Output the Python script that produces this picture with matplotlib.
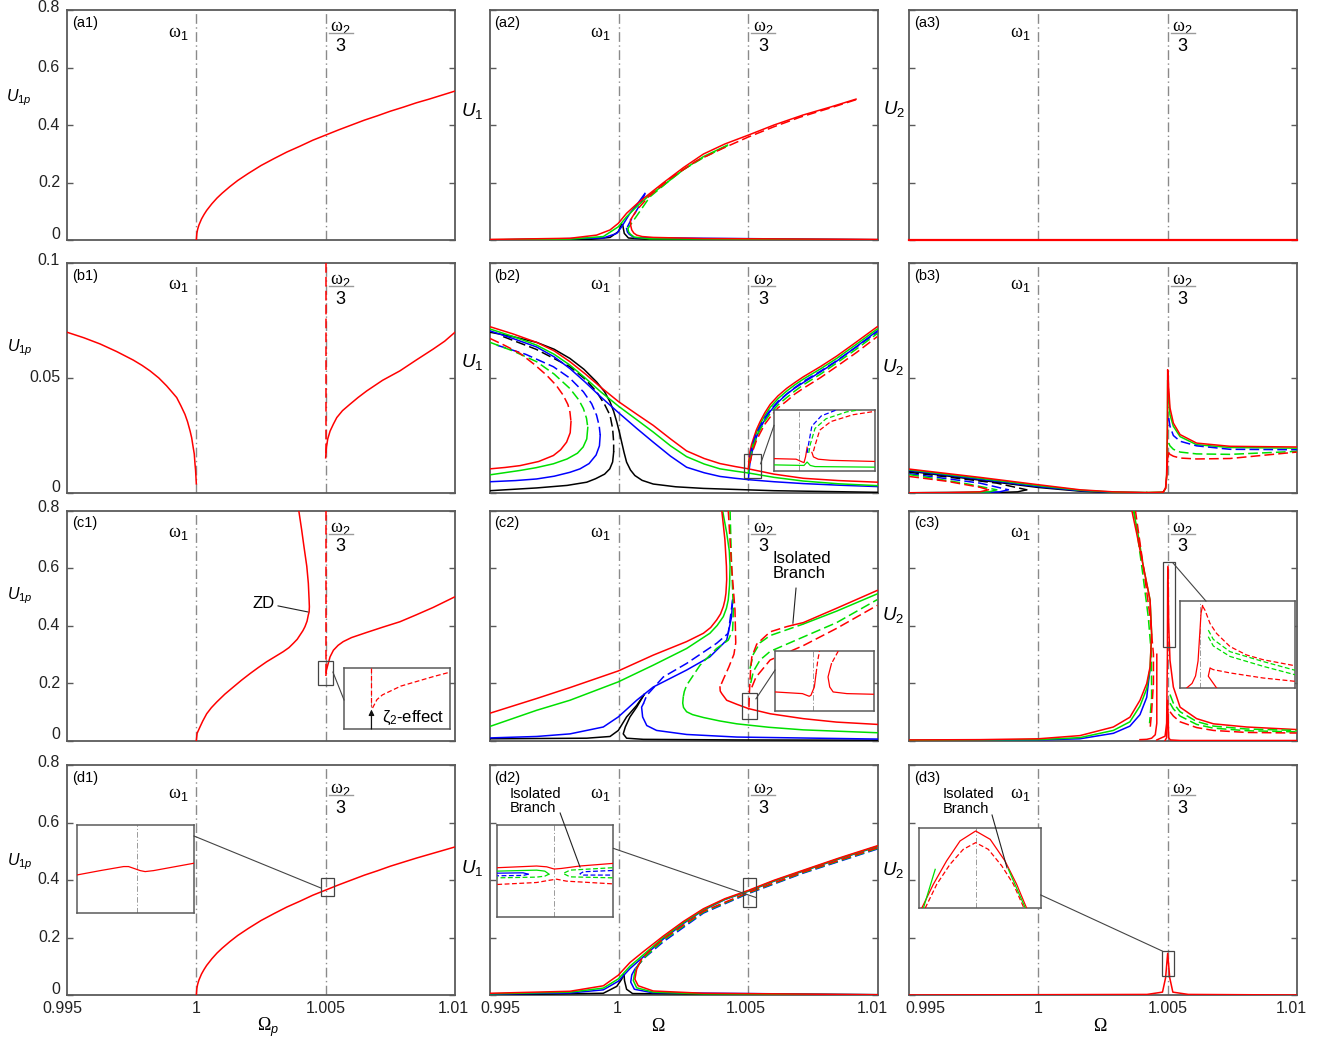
import matplotlib
matplotlib.use("Agg")
import matplotlib.pyplot as plt
from matplotlib.patches import Rectangle
from matplotlib.transforms import blended_transform_factory

plt.rcParams['font.family'] = ['Liberation Sans', 'DejaVu Sans']
plt.rcParams['mathtext.fontset'] = 'custom'
plt.rcParams['mathtext.rm'] = 'Liberation Sans'
plt.rcParams['mathtext.it'] = 'Liberation Sans:italic'
plt.rcParams['mathtext.bf'] = 'Liberation Sans:bold'
plt.rcParams['lines.scale_dashes'] = False

RED, GREEN, BLUE, BLACK = '#ff0000', '#00e000', '#0000ff', '#000000'

# ---------------- axes / tick values ----------------
x_ticks = [0.995, 1.0, 1.005, 1.01]
x_tick_labels = ['0.995', '1', '1.005', '1.01']
y_ticks_u = [0, 0.2, 0.4, 0.6, 0.8]
y_tick_labels_u = ['0', '0.2', '0.4', '0.6', '0.8']
y_ticks_b = [0, 0.05, 0.1]
y_tick_labels_b = ['0', '0.05', '0.1']
omega_1 = 1.0
omega_2_3 = 1.005

# ---------------- (a1) ----------------
a1_red_w = [1.0, 1.00002, 1.00005, 1.0001, 1.0002, 1.0003, 1.0004, 1.0006, 1.0008, 1.001, 1.0013, 1.0016, 1.002, 1.0025,
            1.003, 1.0035, 1.004, 1.0045, 1.005, 1.0055, 1.006, 1.0065, 1.007, 1.0075, 1.008, 1.0085, 1.009, 1.0095, 1.01]
a1_red_u = [0.0, 0.023, 0.037, 0.052, 0.073, 0.089, 0.103, 0.126, 0.146, 0.163, 0.186, 0.207, 0.231, 0.259,
            0.283, 0.306, 0.326, 0.347, 0.365, 0.383, 0.4, 0.417, 0.432, 0.448, 0.462, 0.477, 0.49, 0.504, 0.518]

# ---------------- (a2) ----------------
a2_red_up_w = [0.99502, 0.99811, 0.99914, 0.99966, 0.99998, 1.0003, 1.00069, 1.0012, 1.00172, 1.0025, 1.00327, 1.0041, 1.00501, 1.006, 1.00713, 1.0082, 1.00917]
a2_red_up_u = [0.002, 0.006, 0.017, 0.035, 0.058, 0.093, 0.125, 0.162, 0.199, 0.252, 0.299, 0.334, 0.365, 0.4, 0.435, 0.463, 0.49]
a2_red_mid_w = [1.00917, 1.0082, 1.007, 1.006, 1.005, 1.004, 1.003, 1.002, 1.0012, 1.0007, 1.00045]
a2_red_mid_u = [0.488, 0.46, 0.427, 0.394, 0.358, 0.318, 0.275, 0.215, 0.155, 0.105, 0.07]
a2_red_low_w = [1.00045, 1.00046, 1.0005, 1.00058, 1.00069, 1.0009, 1.00133, 1.00327, 1.01]
a2_red_low_u = [0.07, 0.05, 0.035, 0.024, 0.017, 0.012, 0.009, 0.005, 0.002]
a2_grn_up_w = [0.99502, 0.99811, 0.9994, 0.99998, 1.0003, 1.00069, 1.0012, 1.00172, 1.0025, 1.00327, 1.0042]
a2_grn_up_u = [0.001, 0.003, 0.012, 0.046, 0.081, 0.116, 0.157, 0.19, 0.245, 0.29, 0.33]
a2_grn_mid_w = [1.0042, 1.0033, 1.0025, 1.002, 1.0012, 1.0007, 1.00035]
a2_grn_mid_u = [0.328, 0.288, 0.245, 0.21, 0.15, 0.085, 0.04]
a2_grn_low_w = [1.00035, 1.00038, 1.00045, 1.0006, 1.0012, 1.01]
a2_grn_low_u = [0.04, 0.028, 0.02, 0.01, 0.004, 0.001]
a2_blu_up_w = [0.99502, 0.9994, 0.99992, 1.00011, 1.00043, 1.00069, 1.00101]
a2_blu_up_u = [0.0, 0.007, 0.023, 0.046, 0.093, 0.122, 0.162]
a2_blu_mid_w = [1.00101, 1.0008, 1.0005, 1.0003]
a2_blu_mid_u = [0.16, 0.12, 0.075, 0.04]
a2_blu_low_w = [1.0003, 1.00033, 1.0004, 1.0006, 1.01]
a2_blu_low_u = [0.04, 0.028, 0.02, 0.008, 0.001]
a2_blk_w = [0.99502, 0.99876, 0.99966, 0.99998, 1.00011, 1.00015, 1.00021, 1.00037, 1.00133, 1.01]
a2_blk_u = [0.0, 0.001, 0.009, 0.029, 0.056, 0.052, 0.023, 0.007, 0.001, 0.0]

# ---------------- (a3) ----------------
a3_red_w = [0.995, 1.01]
a3_red_u = [0.0, 0.0]

# ---------------- (b1) ----------------
b1_left_w = [0.995, 0.99565, 0.99628, 0.99692, 0.99756, 0.9979, 0.99821, 0.99855, 0.99885, 0.99905, 0.99924, 0.9994,
             0.99956, 0.99966, 0.99976, 0.99982, 0.99988, 0.99992, 0.99995, 0.99997, 1.0]
b1_left_u = [0.0699, 0.0675, 0.0648, 0.0615, 0.0578, 0.0555, 0.0531, 0.05, 0.0466, 0.044, 0.0415, 0.038,
             0.0342, 0.031, 0.0269, 0.024, 0.0197, 0.017, 0.0124, 0.01, 0.004]
b1_right_w = [1.005, 1.00502, 1.00508, 1.00517, 1.0053, 1.00543, 1.00565, 1.00594, 1.00625, 1.00659, 1.0072, 1.00787,
              1.0085, 1.00916, 1.0096, 1.01]
b1_right_u = [0.0153, 0.019, 0.0235, 0.0269, 0.03, 0.0328, 0.0358, 0.0386, 0.0415, 0.0444, 0.049, 0.0531,
              0.0578, 0.0626, 0.066, 0.0699]
b1_vdash_w = [1.005, 1.005]
b1_vdash_u = [0.1, 0.016]

# ---------------- (b2) ----------------
b2_w = [0.99502, 0.9959, 0.99682, 0.9975, 0.99811, 0.9987, 0.9993, 0.99998, 1.0007, 1.00133, 1.002, 1.00262, 1.0033,
        1.00391, 1.0045, 1.00501, 1.006, 1.00713, 1.0085, 1.00999]
b2_red_u = [0.0723, 0.0692, 0.0655, 0.0618, 0.0571, 0.0518, 0.046, 0.0398, 0.0342, 0.0294, 0.0235, 0.0183, 0.015,
            0.0128, 0.0115, 0.0105, 0.0082, 0.0064, 0.0054, 0.0047]
b2_grn_u = [0.0713, 0.0681, 0.0643, 0.0603, 0.0556, 0.05, 0.044, 0.0378, 0.0318, 0.0265, 0.0205, 0.0158, 0.0126,
            0.0105, 0.0095, 0.0087, 0.0068, 0.0052, 0.004, 0.0032]
b2_blu_u = [0.0705, 0.0672, 0.0635, 0.0592, 0.0541, 0.0482, 0.0418, 0.035, 0.028, 0.0221, 0.016, 0.0112, 0.0088,
            0.0072, 0.0064, 0.0058, 0.0049, 0.0041, 0.0034, 0.0028]
b2_blk_w = [0.99502, 0.9959, 0.99682, 0.9975, 0.99811, 0.99865, 0.99914, 0.99945, 0.99966, 0.9998, 0.99992, 1.00002,
            1.00011, 1.0002, 1.0003, 1.00045, 1.00062, 1.0009, 1.00133, 1.0022, 1.00327, 1.006, 1.00999]
b2_blk_u = [0.0699, 0.068, 0.0655, 0.0625, 0.0585, 0.0538, 0.0483, 0.044, 0.0396, 0.0355, 0.0309, 0.0265,
            0.0221, 0.0177, 0.0134, 0.01, 0.0076, 0.0055, 0.0039, 0.0027, 0.002, 0.001, 0.0003]
b2_red_fd_w = [0.99502, 0.9956, 0.99618, 0.9967, 0.99721, 0.99758, 0.99785, 0.99803, 0.99811, 0.99815]
b2_red_fd_u = [0.0672, 0.0641, 0.0607, 0.0562, 0.0512, 0.0468, 0.0425, 0.0385, 0.0352, 0.031]
b2_red_fs_w = [0.99815, 0.99812, 0.99798, 0.99775, 0.99747, 0.9969, 0.99618, 0.9956, 0.99502]
b2_red_fs_u = [0.031, 0.0262, 0.0221, 0.0188, 0.0163, 0.0137, 0.0119, 0.0111, 0.0105]
b2_grn_fd_w = [0.99502, 0.9959, 0.99682, 0.9975, 0.99811, 0.99845, 0.99863, 0.99875, 0.9988]
b2_grn_fd_u = [0.0655, 0.0618, 0.0571, 0.0517, 0.0454, 0.0405, 0.0367, 0.0325, 0.0285]
b2_grn_fs_w = [0.9988, 0.99876, 0.99862, 0.9984, 0.998, 0.99747, 0.9968, 0.99618, 0.99502]
b2_grn_fs_u = [0.0285, 0.0235, 0.02, 0.0173, 0.0148, 0.0127, 0.011, 0.0098, 0.0079]
b2_blu_fd_w = [0.99528, 0.9964, 0.99747, 0.9981, 0.99863, 0.99895, 0.99914, 0.99924, 0.99928]
b2_blu_fd_u = [0.0643, 0.0603, 0.0549, 0.05, 0.044, 0.0388, 0.0338, 0.0292, 0.0252]
b2_blu_fs_w = [0.99928, 0.99925, 0.99912, 0.99885, 0.9985, 0.99811, 0.9975, 0.99682, 0.996, 0.99502]
b2_blu_fs_u = [0.0252, 0.0205, 0.0165, 0.0128, 0.0105, 0.009, 0.0073, 0.0061, 0.0054, 0.0049]
b2_blk_fd_w = [0.99553, 0.9968, 0.99811, 0.9987, 0.99914, 0.99945, 0.99966, 0.99976, 0.9998, 0.9998]
b2_blk_fd_u = [0.068, 0.0625, 0.0549, 0.0495, 0.044, 0.0385, 0.0338, 0.028, 0.0221, 0.0178]
b2_blk_fs_w = [0.9998, 0.99976, 0.99965, 0.99945, 0.9991, 0.99876, 0.998, 0.99682, 0.99502]
b2_blk_fs_u = [0.0178, 0.0135, 0.0105, 0.0082, 0.0062, 0.0047, 0.0033, 0.0022, 0.001]
b2_rs_w = [1.00501, 1.00503, 1.00507, 1.00513, 1.0052, 1.00532, 1.00546, 1.00565, 1.00585, 1.00615, 1.00649, 1.0068,
           1.00713, 1.0078, 1.00842, 1.0092, 1.00999]
b2_rs_red_u = [0.0105, 0.0145, 0.018, 0.021, 0.0235, 0.0275, 0.031, 0.035, 0.0385, 0.0422, 0.0455, 0.048, 0.0505,
               0.055, 0.0595, 0.0658, 0.0723]
b2_rs_grn_u = [0.0087, 0.0125, 0.016, 0.0192, 0.022, 0.0262, 0.0298, 0.0338, 0.0372, 0.041, 0.0443, 0.047, 0.0495,
               0.054, 0.0585, 0.0648, 0.0713]
b2_rs_blu_u = [0.0058, 0.0095, 0.013, 0.0167, 0.02, 0.0243, 0.028, 0.032, 0.0355, 0.0394, 0.043, 0.0456, 0.048,
               0.0527, 0.0573, 0.0638, 0.0705]
b2_rd_w = [1.00507, 1.00513, 1.0052, 1.00532, 1.00546, 1.00565, 1.00585, 1.00615, 1.00649, 1.0068, 1.00713, 1.0078,
           1.00842, 1.0092, 1.00999]
b2_rd_red_u = [0.013, 0.0162, 0.019, 0.0228, 0.026, 0.03, 0.033, 0.037, 0.04, 0.043, 0.0455, 0.0502, 0.055, 0.0612, 0.068]
b2_rd_grn_u = [0.014, 0.0175, 0.0205, 0.0243, 0.0275, 0.0313, 0.0345, 0.0383, 0.0415, 0.0443, 0.047, 0.0517, 0.0565, 0.0627, 0.0693]
b2_rd_blu_u = [0.0155, 0.019, 0.022, 0.0258, 0.029, 0.0328, 0.036, 0.0398, 0.043, 0.0458, 0.0485, 0.053, 0.0575, 0.0636, 0.0699]
# zoomed detail near omega_2/3
b2z_red_a_w = [1.00484, 1.00498, 1.00502, 1.00503, 1.00504, 1.00505]
b2z_red_a_u = [0.0085, 0.0084, 0.0079, 0.0078, 0.0088, 0.0105]
b2z_red_b_w = [1.00508, 1.00509, 1.00512, 1.0052, 1.00548]
b2z_red_b_u = [0.0096, 0.0088, 0.0084, 0.0082, 0.008]
b2z_grn_w = [1.00484, 1.00503, 1.00505, 1.00507, 1.0051, 1.00548]
b2z_grn_u = [0.0074, 0.0073, 0.0079, 0.0073, 0.0071, 0.007]
b2z_red_d_w = [1.00509, 1.0051, 1.00513, 1.0052, 1.00534, 1.00548]
b2z_red_d_u = [0.0098, 0.0108, 0.0135, 0.015, 0.0162, 0.0168]
b2z_grn_d_w = [1.00506, 1.00507, 1.0051, 1.00517, 1.0053, 1.00548]
b2z_grn_d_u = [0.0095, 0.011, 0.0138, 0.0155, 0.0167, 0.0175]
b2z_blu_d_w = [1.00505, 1.00506, 1.00508, 1.00514, 1.00525, 1.0054]
b2z_blu_d_u = [0.0095, 0.0112, 0.0142, 0.016, 0.0172, 0.018]

# ---------------- (b3) ----------------
b3_w = [0.99501, 0.99774, 1.0, 1.00161, 1.0029, 1.00419]
b3_red_u = [0.0104, 0.0068, 0.0036, 0.0014, 0.0005, 0.0002]
b3_grn_u = [0.0101, 0.0064, 0.0032, 0.0012, 0.0004, 0.0002]
b3_blu_u = [0.0098, 0.006, 0.0028, 0.001, 0.0003, 0.0001]
b3_blk_u = [0.0095, 0.0056, 0.0024, 0.0008, 0.0002, 0.0001]
b3_red_fd_w = [0.99501, 0.99646, 0.99774, 0.99807]
b3_red_fd_u = [0.0072, 0.0051, 0.0025, 0.0014]
b3_red_fs_w = [0.99807, 0.99774, 0.99646, 0.99501]
b3_red_fs_u = [0.0014, 0.0005, 0.0002, 0.0001]
b3_grn_fd_w = [0.99501, 0.9971, 0.99839]
b3_grn_fd_u = [0.008, 0.0043, 0.0014]
b3_grn_fs_w = [0.99839, 0.9981, 0.9971, 0.99501]
b3_grn_fs_u = [0.0014, 0.0005, 0.0002, 0.0001]
b3_blu_fd_w = [0.99501, 0.99774, 0.99884]
b3_blu_fd_u = [0.0084, 0.0043, 0.0014]
b3_blu_fs_w = [0.99884, 0.9985, 0.99774, 0.99501]
b3_blu_fs_u = [0.0014, 0.0005, 0.0002, 0.0001]
b3_blk_fd_w = [0.99501, 0.99839, 0.99955]
b3_blk_fd_u = [0.009, 0.0043, 0.0014]
b3_blk_fs_w = [0.99955, 0.9992, 0.99839, 0.99501]
b3_blk_fs_u = [0.0014, 0.0005, 0.0002, 0.0001]
b3_peak_w = [1.00419, 1.00483, 1.00492, 1.00496, 1.00499, 1.005, 1.00504, 1.00509, 1.00522, 1.00548, 1.00612, 1.00741, 1.01]
b3_peak_red_u = [0.0002, 0.0004, 0.0022, 0.008, 0.03, 0.0536, 0.0456, 0.037, 0.0304, 0.0254, 0.0217, 0.0203, 0.02]
b3_peak_grn_u = [0.0002, 0.0004, 0.002, 0.007, 0.026, 0.049, 0.042, 0.034, 0.029, 0.0245, 0.021, 0.0198, 0.0195]
b3_tail_w = [1.00504, 1.00509, 1.00522, 1.00548, 1.00612, 1.00741, 1.01]
b3_tail_blu_u = [0.0326, 0.029, 0.025, 0.0225, 0.0205, 0.019, 0.0188]
b3_tail_grn_u = [0.0217, 0.0205, 0.019, 0.0178, 0.017, 0.0168, 0.0181]
b3_tail_red_u = [0.0174, 0.0168, 0.016, 0.0152, 0.0148, 0.015, 0.0178]
b3_low_w = [1.0048, 1.00492, 1.00497, 1.005, 1.00504]
b3_low_u = [0.0, 0.002, 0.008, 0.015, 0.0174]

# ---------------- (c1) ----------------
c1_zd_w = [1.0, 1.00003, 1.00014, 1.00025, 1.0004, 1.00058, 1.00079, 1.0011, 1.00143, 1.00175, 1.00208, 1.0024, 1.00272,
           1.00305, 1.00336, 1.00358, 1.00375, 1.0039, 1.00401, 1.00412, 1.0042, 1.00428, 1.00433, 1.00436, 1.00437,
           1.00436, 1.00433, 1.00427, 1.00416, 1.00407, 1.00396]
c1_zd_u = [0.0, 0.025, 0.047, 0.068, 0.093, 0.114, 0.134, 0.161, 0.186, 0.21, 0.233, 0.254, 0.274,
           0.292, 0.309, 0.323, 0.338, 0.352, 0.367, 0.382, 0.396, 0.415, 0.437, 0.447, 0.465,
           0.489, 0.547, 0.606, 0.675, 0.734, 0.8]
c1_right_w = [1.00501, 1.00503, 1.00508, 1.00517, 1.0053, 1.00548, 1.00568, 1.006, 1.00659, 1.0072, 1.00787, 1.0085, 1.00916, 1.01]
c1_right_u = [0.227, 0.245, 0.262, 0.291, 0.314, 0.331, 0.344, 0.358, 0.376, 0.394, 0.413, 0.437, 0.463, 0.5]
c1_vdash_w = [1.005, 1.005]
c1_vdash_u = [0.8, 0.23]
c1z_vdash_w = [1.005, 1.005]
c1z_vdash_u = [0.27, 0.226]
c1z_curve_w = [1.005006, 1.00503, 1.00506, 1.00516, 1.00534, 1.00543]
c1z_curve_u = [0.224, 0.2336, 0.239, 0.249, 0.26, 0.265]

# ---------------- (c2) ----------------
c2_red1_w = [0.99502, 0.99682, 0.99811, 0.99998, 1.00133, 1.00262, 1.00327, 1.00355, 1.00378, 1.00393, 1.00404, 1.0041,
             1.00414, 1.00417, 1.00416, 1.0041, 1.00398]
c2_red1_u = [0.095, 0.146, 0.184, 0.242, 0.297, 0.344, 0.373, 0.393, 0.419, 0.44, 0.466, 0.488, 0.512, 0.56, 0.606, 0.699, 0.8]
c2_red2_w = [1.00423, 1.00436, 1.00449, 1.00452, 1.00445, 1.00425, 1.00405, 1.00391]
c2_red2_u = [0.8, 0.606, 0.454, 0.34, 0.3, 0.255, 0.215, 0.186]
c2_red3_w = [1.00391, 1.00392, 1.00398, 1.00417, 1.00456, 1.00501, 1.00585, 1.00713, 1.00842, 1.00999]
c2_red3_u = [0.186, 0.172, 0.163, 0.14, 0.126, 0.111, 0.093, 0.076, 0.064, 0.056]
c2_red4_w = [1.00503, 1.00505, 1.00509, 1.00514, 1.00533, 1.00585, 1.00649, 1.00675]
c2_red4_u = [0.115, 0.17, 0.24, 0.29, 0.335, 0.378, 0.396, 0.402]
c2_red5_w = [1.00675, 1.00713, 1.00842, 1.00999]
c2_red5_u = [0.402, 0.41, 0.46, 0.522]
c2_red6_w = [1.00514, 1.0053, 1.00585, 1.00713, 1.00842, 1.00999]
c2_red6_u = [0.185, 0.22, 0.28, 0.33, 0.39, 0.47]
c2_grn1_w = [0.99502, 0.99682, 0.99811, 0.99998, 1.00133, 1.00262, 1.00352, 1.0038, 1.00404, 1.00416, 1.00423, 1.00428,
             1.0043, 1.00427, 1.00417, 1.00401]
c2_grn1_u = [0.049, 0.105, 0.14, 0.204, 0.262, 0.32, 0.373, 0.4, 0.431, 0.46, 0.489, 0.54, 0.606, 0.66, 0.722, 0.8]
c2_grn2_w = [1.0043, 1.00436, 1.00443, 1.0044, 1.00423, 1.00378, 1.00314, 1.00262, 1.00253, 1.00249]
c2_grn2_u = [0.8, 0.606, 0.454, 0.384, 0.349, 0.32, 0.262, 0.192, 0.17, 0.151]
c2_grn3_w = [1.00249, 1.00247, 1.0025, 1.00262, 1.00285, 1.00327, 1.0039, 1.00456, 1.0058, 1.00713, 1.00999]
c2_grn3_u = [0.151, 0.13, 0.115, 0.1, 0.09, 0.08, 0.068, 0.058, 0.046, 0.037, 0.027]
c2_grn4_w = [1.00507, 1.0052, 1.00546, 1.00585, 1.00649, 1.00713]
c2_grn4_u = [0.25, 0.3, 0.34, 0.365, 0.385, 0.405]
c2_grn5_w = [1.00713, 1.00842, 1.00999]
c2_grn5_u = [0.405, 0.45, 0.51]
c2_grn6_w = [1.0051, 1.0052, 1.00546, 1.00585, 1.00713, 1.00842, 1.00999]
c2_grn6_u = [0.2, 0.24, 0.28, 0.31, 0.36, 0.41, 0.49]
c2_blu1_w = [0.99502, 0.99682, 0.99811, 0.9994, 0.99998, 1.00069, 1.00133, 1.00262, 1.00352, 1.00417, 1.00436, 1.0044]
c2_blu1_u = [0.009, 0.014, 0.023, 0.047, 0.082, 0.14, 0.186, 0.245, 0.291, 0.349, 0.431, 0.489]
c2_blu2_w = [1.0044, 1.00423, 1.00378, 1.00262, 1.00172, 1.00108, 1.00095]
c2_blu2_u = [0.489, 0.373, 0.338, 0.268, 0.221, 0.157, 0.128]
c2_blu3_w = [1.00095, 1.00088, 1.00092, 1.00108, 1.00146, 1.00262, 1.00456, 1.00999]
c2_blu3_u = [0.128, 0.116, 0.082, 0.052, 0.035, 0.021, 0.012, 0.005]
c2_blk1_w = [0.99502, 0.99876, 0.99966, 0.99998, 1.0003, 1.00069, 1.00098]
c2_blk1_u = [0.006, 0.008, 0.014, 0.035, 0.082, 0.122, 0.16]
c2_blk2_w = [1.00098, 1.00069, 1.00043, 1.00025, 1.00017, 1.0003, 1.00095, 1.00456, 1.00999]
c2_blk2_u = [0.16, 0.116, 0.082, 0.047, 0.023, 0.008, 0.004, 0.002, 0.001]
c2z_red_ls_w = [1.00478, 1.00494, 1.00498, 1.00499, 1.00501, 1.00502]
c2z_red_ls_u = [0.1035, 0.101, 0.097, 0.0985, 0.111, 0.131]
c2z_red_ld_w = [1.00502, 1.00503, 1.00504]
c2z_red_ld_u = [0.131, 0.151, 0.165]
c2z_red_rd_w = [1.00515, 1.00511]
c2z_red_rd_u = [0.165, 0.146]
c2z_red_rs_w = [1.00511, 1.00509, 1.0051, 1.00512, 1.0052, 1.00536]
c2z_red_rs_u = [0.146, 0.126, 0.111, 0.1035, 0.101, 0.1]

# ---------------- (c3) ----------------
c3_red1_w = [0.995, 0.99774, 1.0, 1.00161, 1.0029, 1.00354, 1.00393, 1.00419, 1.00432, 1.00438, 1.00432, 1.00406, 1.0038, 1.00361]
c3_red1_u = [0.002, 0.003, 0.006, 0.017, 0.047, 0.081, 0.14, 0.198, 0.256, 0.372, 0.488, 0.605, 0.721, 0.802]
c3_grn1_w = [0.995, 1.0, 1.00161, 1.0029, 1.00354, 1.00393, 1.00419, 1.00432, 1.00438, 1.00432, 1.00406, 1.00385, 1.00367]
c3_grn1_u = [0.001, 0.003, 0.01, 0.035, 0.065, 0.12, 0.18, 0.25, 0.372, 0.488, 0.605, 0.721, 0.802]
c3_blu1_w = [0.995, 1.0, 1.00161, 1.0029, 1.00354, 1.00393, 1.00419, 1.00432]
c3_blu1_u = [0.0, 0.002, 0.006, 0.025, 0.05, 0.09, 0.15, 0.25]
c3_red2_w = [1.00375, 1.00406, 1.00432, 1.00445, 1.00445, 1.00438, 1.00432]
c3_red2_u = [0.802, 0.605, 0.43, 0.3, 0.2, 0.1, 0.04]
c3_grn2_w = [1.0037, 1.004, 1.00425, 1.00437, 1.00438, 1.0043]
c3_grn2_u = [0.802, 0.605, 0.43, 0.3, 0.15, 0.06]
c3_red3_w = [1.00458, 1.00458, 1.00452, 1.00438, 1.00419, 1.00393]
c3_red3_u = [0.3, 0.06, 0.02, 0.008, 0.004, 0.003]
c3_spk_w = [1.00458, 1.0049, 1.00496, 1.00499, 1.005, 1.00501]
c3_spk_u = [0.002, 0.015, 0.06, 0.3, 0.55, 0.605]
c3_dec_w = [1.00501, 1.00504, 1.00509, 1.00522, 1.00548, 1.00612, 1.00677, 1.00805, 1.00999]
c3_dec_red_u = [0.6, 0.4, 0.279, 0.186, 0.116, 0.076, 0.058, 0.047, 0.038]
c3_tail_w = [1.00509, 1.00522, 1.00548, 1.00612, 1.00677, 1.00805, 1.00999]
c3_tail_grn1_u = [0.16, 0.13, 0.1, 0.066, 0.05, 0.04, 0.035]
c3_tail_grn2_u = [0.13, 0.11, 0.085, 0.056, 0.043, 0.034, 0.03]
c3_tail_red_u = [0.1, 0.085, 0.065, 0.045, 0.035, 0.028, 0.026]
c3_low_w = [1.0049, 1.00496, 1.005, 1.00504, 1.0051, 1.0055, 1.01]
c3_low_u = [0.0, 0.01, 0.14, 0.01, 0.002, 0.0, 0.0]
c3z_red_s_w = [1.004947, 1.004968, 1.004982, 1.004992, 1.004998, 1.005004, 1.00501]
c3z_red_s_u = [0.33, 0.345, 0.37, 0.42, 0.5, 0.58, 0.605]
c3z_red_d_w = [1.005011, 1.00502, 1.00504, 1.005066, 1.00512, 1.005186, 1.005253, 1.00538]
c3z_red_d_u = [0.602, 0.589, 0.545, 0.512, 0.468, 0.44, 0.424, 0.404]
c3z_tail_w = [1.005033, 1.005053, 1.00512, 1.005253, 1.00538]
c3z_grn1_u = [0.523, 0.492, 0.451, 0.418, 0.389]
c3z_grn2_u = [0.501, 0.47, 0.435, 0.402, 0.374]
c3z_red_low_w = [1.00504, 1.005053, 1.00512, 1.005253, 1.00538]
c3z_red_low_u = [0.396, 0.391, 0.38, 0.363, 0.352]
c3z_hook_w = [1.005066, 1.005033, 1.00504]
c3z_hook_u = [0.33, 0.369, 0.396]

# ---------------- (d1) ----------------
d1_red_w = a1_red_w
d1_red_u = [0.0, 0.023, 0.037, 0.052, 0.073, 0.089, 0.103, 0.126, 0.146, 0.163, 0.186, 0.207, 0.231, 0.259,
            0.283, 0.306, 0.326, 0.347, 0.365, 0.383, 0.4, 0.417, 0.432, 0.448, 0.462, 0.476, 0.489, 0.502, 0.515]
d1z_w = [1.004745, 1.004844, 1.004944, 1.004965, 1.004986, 1.005015, 1.005036, 1.005072, 1.005245]
d1z_u = [0.3713, 0.3744, 0.3773, 0.3773, 0.3761, 0.3744, 0.3737, 0.3744, 0.3797]

# ---------------- (d2) ----------------
d2_up_w = [0.99502, 0.99811, 0.9994, 0.99998, 1.00043, 1.00095, 1.00172, 1.0025, 1.00327, 1.0041, 1.00501, 1.006, 1.00713, 1.0085, 1.00999]
d2_red_up_u = [0.006, 0.013, 0.032, 0.069, 0.113, 0.151, 0.205, 0.256, 0.3, 0.335, 0.364, 0.399, 0.434, 0.476, 0.519]
d2_grn_up_u = [0.004, 0.01, 0.024, 0.056, 0.1, 0.14, 0.2, 0.252, 0.297, 0.333, 0.362, 0.397, 0.432, 0.474, 0.517]
d2_blu_up_u = [0.003, 0.007, 0.018, 0.048, 0.092, 0.133, 0.195, 0.249, 0.295, 0.332, 0.361, 0.396, 0.431, 0.473, 0.516]
d2_red_mid_w = [1.00999, 1.00713, 1.00501, 1.00327, 1.00172, 1.0012, 1.00088]
d2_red_mid_u = [0.512, 0.428, 0.357, 0.291, 0.195, 0.155, 0.125]
d2_red_low_w = [1.00088, 1.00069, 1.00062, 1.00075, 1.00133, 1.00327, 1.01]
d2_red_low_u = [0.125, 0.09, 0.055, 0.032, 0.014, 0.006, 0.001]
d2_grn_mid_w = [1.01, 1.00713, 1.00501, 1.00327, 1.00172, 1.0011, 1.00075]
d2_grn_mid_u = [0.51, 0.426, 0.355, 0.288, 0.19, 0.14, 0.105]
d2_grn_low_w = [1.00075, 1.00062, 1.00056, 1.00069, 1.00133, 1.00327, 1.01]
d2_grn_low_u = [0.105, 0.08, 0.05, 0.025, 0.01, 0.004, 0.001]
d2_blu_mid_w = [1.01, 1.00713, 1.00501, 1.00327, 1.00172, 1.001, 1.00062]
d2_blu_mid_u = [0.508, 0.424, 0.353, 0.285, 0.185, 0.13, 0.09]
d2_blu_low_w = [1.00062, 1.0005, 1.00046, 1.0006, 1.0013, 1.01]
d2_blu_low_u = [0.09, 0.07, 0.045, 0.02, 0.008, 0.001]
d2_blk_w = [0.99502, 0.9994, 0.99992, 1.00011, 1.00018, 1.0002, 1.00022, 1.0003, 1.00053, 1.01]
d2_blk_u = [0.0, 0.006, 0.03, 0.055, 0.07, 0.072, 0.05, 0.02, 0.005, 0.0]
d2z_red_w = [1.004758, 1.004925, 1.004968, 1.005, 1.005031, 1.005109, 1.005248]
d2z_red_u = [0.3601, 0.362, 0.3611, 0.3586, 0.3593, 0.362, 0.3649]
d2z_grn_ls_w = [1.004758, 1.004925, 1.00496, 1.004978]
d2z_grn_ls_u = [0.3563, 0.3574, 0.3563, 0.3529]
d2z_grn_ld_w = [1.004978, 1.00496, 1.004925, 1.004758]
d2z_grn_ld_u = [0.3529, 0.3507, 0.3496, 0.3488]
d2z_blu_ls_w = [1.004758, 1.004868, 1.00489]
d2z_blu_ls_u = [0.354, 0.3544, 0.3529]
d2z_blu_ld_w = [1.00489, 1.004868, 1.004758]
d2z_blu_ld_u = [0.3529, 0.3515, 0.3511]
d2z_grn_r_w = [1.005248, 1.005067, 1.005038, 1.005067, 1.005248]
d2z_grn_r_u = [0.3601, 0.3574, 0.3537, 0.3499, 0.3488]
d2z_blu_r_w = [1.005248, 1.005124, 1.005109, 1.005124, 1.005248]
d2z_blu_r_u = [0.357, 0.3556, 0.3533, 0.3519, 0.3519]
d2z_red_d_w = [1.004758, 1.004925, 1.004982, 1.00501, 1.005052, 1.005248]
d2z_red_d_u = [0.3414, 0.3436, 0.3462, 0.3473, 0.3451, 0.3421]

# ---------------- (d3) ----------------
d3_red_w = [0.995, 1.0042, 1.0048, 1.00492, 1.005, 1.00508, 1.0052, 1.0058, 1.01]
d3_red_u = [0.0, 0.002, 0.01, 0.06, 0.145, 0.06, 0.01, 0.002, 0.0]
d3z_red_s_w = [1.004796, 1.00484, 1.00489, 1.004941, 1.005, 1.005055, 1.005111, 1.005155, 1.005193]
d3z_red_s_u = [0.067, 0.0923, 0.1169, 0.138, 0.1485, 0.1397, 0.1169, 0.0923, 0.067]
d3z_red_d_w = [1.004809, 1.004853, 1.004903, 1.004953, 1.005, 1.005048, 1.005099, 1.005143, 1.005183]
d3z_red_d_u = [0.067, 0.0923, 0.1133, 0.1291, 0.1362, 0.1291, 0.1116, 0.0923, 0.067]
d3z_grn_l_w = [1.004803, 1.004847]
d3z_grn_l_u = [0.0677, 0.108]
d3z_grn_r_w = [1.005124, 1.005187]
d3z_grn_r_u = [0.108, 0.0677]

# ---------------- styles / layout ----------------
DASH = (0, (7, 3))
DASH_S = (0, (3.5, 1.8))
DASHDOT = (0, (7, 2.5, 1, 2.5))
DASHDOT_S = (0, (4, 1.5, 0.8, 1.5))
FRAME = '#5a5a5a'
LABEL = '#222222'
LW = 1.1

W_PX, H_PX = 1320, 1047
col_left = [67, 489.5, 909]
row_bottom = [240, 493, 740.5, 995]
PW, PH = 388, 230
PX = 0.015 / PW                       # one pixel in Omega units
# horizontal nudges (points) of the bottom tick labels, per column
xlabel_nudge = [[-3, 0, 0, -1], [8, -1, -2, -4], [12, 0, 0, -4]]

fig = plt.figure(figsize=(W_PX / 100, H_PX / 100), dpi=100)
axes = [[None] * 3 for _ in range(4)]
for r in range(4):
    for c in range(3):
        axes[r][c] = fig.add_axes([col_left[c] / W_PX, 1 - row_bottom[r] / H_PX, PW / W_PX, PH / H_PX])


def frame(ax, tag, row, col):
    ax.set_xlim(0.995, 1.01)
    if row == 1:
        ax.set_ylim(0, 0.1)
        yt, labs = y_ticks_b, y_tick_labels_b
    else:
        ax.set_ylim(0, 0.8)
        yt, labs = y_ticks_u, y_tick_labels_u
    ax.set_yticks(yt)
    ax.set_yticklabels([])
    ax.set_xticks(x_ticks)
    ax.set_xticklabels([])
    ax.tick_params(axis='both', direction='in', width=1.0, color=FRAME)
    ax.tick_params(axis='y', length=4, right=True)
    ax.tick_params(axis='x', length=0)
    if col == 0:
        n = len(yt)
        for i, (v, lab) in enumerate(zip(yt, labs)):
            dy = 4 if i == 0 else (2 if i == n - 1 else 0)
            ax.annotate(lab, xy=(0, v), xycoords=('axes fraction', 'data'), xytext=(-5, dy),
                        textcoords='offset points', ha='right', va='center', fontsize=11.5, color=LABEL,
                        annotation_clip=False)
    if row == 3:
        for v, lab, dx in zip(x_ticks, x_tick_labels, xlabel_nudge[col]):
            ax.annotate(lab, xy=(v, 0), xycoords=('data', 'axes fraction'), xytext=(dx, -4.5),
                        textcoords='offset points', ha='center', va='top', fontsize=11.5, color=LABEL,
                        annotation_clip=False)
    for s in ax.spines.values():
        s.set_color(FRAME)
        s.set_linewidth(1.3)
    for xv in (omega_1, omega_2_3):
        ax.axvline(xv, color='#8a8a8a', lw=1.0, ls=DASHDOT, zorder=1)
    ax.text(0.012, 0.975, '(%s)' % tag, transform=ax.transAxes, ha='left', va='top', fontsize=10.5)
    dy = -0.03 if row == 3 else 0.0
    bt = blended_transform_factory(ax.transData, ax.transAxes)
    ax.text(omega_1 - 8 * PX, 0.9 + dy, 'ω$_1$', transform=bt, ha='right', va='center',
            fontsize=13, family='Liberation Serif')
    ax.text(omega_2_3 + 15 * PX, 0.922 + dy, 'ω$_2$', transform=bt, ha='center', va='center',
            fontsize=13, family='Liberation Serif')
    ax.plot([omega_2_3 + 3 * PX, omega_2_3 + 27 * PX], [0.898 + dy, 0.898 + dy], transform=bt,
            color='#9a9a9a', lw=1.0, zorder=4)
    ax.text(omega_2_3 + 15 * PX, 0.843 + dy, '3', transform=bt, ha='center', va='center', fontsize=13)


def draw(ax, items, lw=LW, dash=DASH):
    for w, u, color, dashed in items:
        ax.plot(w, u, color=color, lw=lw, ls=dash if dashed else '-', zorder=3)


def zoom_box(ax, box, xlim, ylim, src, conn):
    ins = ax.inset_axes([box[0], box[1], box[2] - box[0], box[3] - box[1]],
                        transform=ax.transData, zorder=6)
    ins.set_xlim(*xlim)
    ins.set_ylim(*ylim)
    ins.set_xticks([])
    ins.set_yticks([])
    for s in ins.spines.values():
        s.set_color(FRAME)
        s.set_linewidth(1.1)
    ins.axvline(omega_2_3, color='#9a9a9a', lw=0.7, ls=DASHDOT_S, zorder=1)
    ax.add_patch(Rectangle((src[0], src[1]), src[2] - src[0], src[3] - src[1],
                           fill=False, ec='#444444', lw=0.9, zorder=5))
    ax.plot(conn[0], conn[1], color='#444444', lw=0.8, zorder=7)
    return ins


tags = [['a1', 'a2', 'a3'], ['b1', 'b2', 'b3'], ['c1', 'c2', 'c3'], ['d1', 'd2', 'd3']]
for r in range(4):
    for c in range(3):
        frame(axes[r][c], tags[r][c], r, c)

# ---- row a ----
draw(axes[0][0], [(a1_red_w, a1_red_u, RED, False)])
draw(axes[0][1], [
    (a2_blk_w, a2_blk_u, BLACK, False),
    (a2_blu_up_w, a2_blu_up_u, BLUE, False), (a2_blu_mid_w, a2_blu_mid_u, BLUE, True), (a2_blu_low_w, a2_blu_low_u, BLUE, False),
    (a2_grn_up_w, a2_grn_up_u, GREEN, False), (a2_grn_mid_w, a2_grn_mid_u, GREEN, True), (a2_grn_low_w, a2_grn_low_u, GREEN, False),
    (a2_red_up_w, a2_red_up_u, RED, False), (a2_red_mid_w, a2_red_mid_u, RED, True), (a2_red_low_w, a2_red_low_u, RED, False),
])
axes[0][2].plot(a3_red_w, a3_red_u, color=RED, lw=1.6, zorder=4, clip_on=False)

# ---- row b ----
draw(axes[1][0], [(b1_left_w, b1_left_u, RED, False), (b1_right_w, b1_right_u, RED, False),
                  (b1_vdash_w, b1_vdash_u, RED, True)])
ax = axes[1][1]
draw(ax, [
    (b2_blk_w, b2_blk_u, BLACK, False), (b2_blk_fd_w, b2_blk_fd_u, BLACK, True), (b2_blk_fs_w, b2_blk_fs_u, BLACK, False),
    (b2_w, b2_blu_u, BLUE, False), (b2_blu_fd_w, b2_blu_fd_u, BLUE, True), (b2_blu_fs_w, b2_blu_fs_u, BLUE, False),
    (b2_w, b2_grn_u, GREEN, False), (b2_grn_fd_w, b2_grn_fd_u, GREEN, True), (b2_grn_fs_w, b2_grn_fs_u, GREEN, False),
    (b2_w, b2_red_u, RED, False), (b2_red_fd_w, b2_red_fd_u, RED, True), (b2_red_fs_w, b2_red_fs_u, RED, False),
    (b2_rs_w, b2_rs_blu_u, BLUE, False), (b2_rs_w, b2_rs_grn_u, GREEN, False), (b2_rs_w, b2_rs_red_u, RED, False),
    (b2_rd_w, b2_rd_blu_u, BLUE, True), (b2_rd_w, b2_rd_grn_u, GREEN, True), (b2_rd_w, b2_rd_red_u, RED, True),
])
b2_box = (1.006, 0.00975, 1.0099, 0.036)
b2_src = (1.00484, 0.0064, 1.00548, 0.017)
ins = zoom_box(ax, b2_box, (b2_src[0], b2_src[2]), (b2_src[1], b2_src[3]), b2_src,
               ([b2_src[2], b2_box[0]], [0.0127, 0.0294]))
draw(ins, [(b2z_red_a_w, b2z_red_a_u, RED, False), (b2z_red_b_w, b2z_red_b_u, RED, False),
           (b2z_grn_w, b2z_grn_u, GREEN, False), (b2z_blu_d_w, b2z_blu_d_u, BLUE, True),
           (b2z_grn_d_w, b2z_grn_d_u, GREEN, True), (b2z_red_d_w, b2z_red_d_u, RED, True)], lw=0.9, dash=DASH_S)

draw(axes[1][2], [
    (b3_w, b3_blk_u, BLACK, False), (b3_blk_fd_w, b3_blk_fd_u, BLACK, True), (b3_blk_fs_w, b3_blk_fs_u, BLACK, False),
    (b3_w, b3_blu_u, BLUE, False), (b3_blu_fd_w, b3_blu_fd_u, BLUE, True), (b3_blu_fs_w, b3_blu_fs_u, BLUE, False),
    (b3_w, b3_grn_u, GREEN, False), (b3_grn_fd_w, b3_grn_fd_u, GREEN, True), (b3_grn_fs_w, b3_grn_fs_u, GREEN, False),
    (b3_w, b3_red_u, RED, False), (b3_red_fd_w, b3_red_fd_u, RED, True), (b3_red_fs_w, b3_red_fs_u, RED, False),
    (b3_peak_w, b3_peak_grn_u, GREEN, False), (b3_peak_w, b3_peak_red_u, RED, False),
    (b3_tail_w, b3_tail_blu_u, BLUE, True), (b3_tail_w, b3_tail_grn_u, GREEN, True), (b3_tail_w, b3_tail_red_u, RED, True),
    (b3_low_w, b3_low_u, RED, False),
])

# ---- row c ----
ax = axes[2][0]
draw(ax, [(c1_zd_w, c1_zd_u, RED, False), (c1_right_w, c1_right_u, RED, False), (c1_vdash_w, c1_vdash_u, RED, True)])
ax.annotate('ZD', xy=(1.00432, 0.447), xytext=(1.00219, 0.478), fontsize=12, ha='left', va='center',
            arrowprops=dict(arrowstyle='-', color='#222222', lw=0.8, shrinkA=0, shrinkB=0))
c1_box = (1.00571, 0.04, 1.00981, 0.253)
c1_src = (1.0047, 0.193, 1.00528, 0.276)
ins = zoom_box(ax, c1_box, (1.00485, 1.00543), (0.2, 0.27), c1_src,
               ([c1_src[2], c1_box[0]], [0.238, 0.141]))
draw(ins, [(c1z_vdash_w, c1z_vdash_u, RED, True), (c1z_curve_w, c1z_curve_u, RED, True)], lw=0.9, dash=DASH_S)
ins.annotate('', xy=(1.005, 0.2222), xytext=(1.005, 0.2),
             arrowprops=dict(arrowstyle='-|>', color='#111111', lw=0.9, mutation_scale=8, shrinkA=0, shrinkB=0))
ins.text(1.00506, 0.2126, r'ζ$_2$-effect', fontsize=12, ha='left', va='center')

ax = axes[2][1]
draw(ax, [
    (c2_blk1_w, c2_blk1_u, BLACK, False), (c2_blk2_w, c2_blk2_u, BLACK, False),
    (c2_blu1_w, c2_blu1_u, BLUE, False), (c2_blu2_w, c2_blu2_u, BLUE, True), (c2_blu3_w, c2_blu3_u, BLUE, False),
    (c2_grn1_w, c2_grn1_u, GREEN, False), (c2_grn2_w, c2_grn2_u, GREEN, True), (c2_grn3_w, c2_grn3_u, GREEN, False),
    (c2_grn4_w, c2_grn4_u, GREEN, True), (c2_grn5_w, c2_grn5_u, GREEN, False), (c2_grn6_w, c2_grn6_u, GREEN, True),
    (c2_red1_w, c2_red1_u, RED, False), (c2_red2_w, c2_red2_u, RED, True), (c2_red3_w, c2_red3_u, RED, False),
    (c2_red4_w, c2_red4_u, RED, True), (c2_red5_w, c2_red5_u, RED, False), (c2_red6_w, c2_red6_u, RED, True),
])
ax.text(1.00596, 0.66, 'Isolated\nBranch', fontsize=12, ha='left', va='top', linespacing=1.05)
ax.plot([1.00685, 1.00673], [0.53, 0.408], color='#222222', lw=0.8, zorder=7)
c2_box = (1.00604, 0.103, 1.00987, 0.311)
c2_src = (1.00476, 0.075, 1.00534, 0.165)
ins = zoom_box(ax, c2_box, (1.00478, 1.00536), (0.075, 0.165), c2_src,
               ([1.0053, c2_box[0]], [0.145, 0.245]))
draw(ins, [(c2z_red_ls_w, c2z_red_ls_u, RED, False), (c2z_red_ld_w, c2z_red_ld_u, RED, True),
           (c2z_red_rd_w, c2z_red_rd_u, RED, True), (c2z_red_rs_w, c2z_red_rs_u, RED, False)], lw=0.9, dash=DASH_S)

ax = axes[2][2]
draw(ax, [
    (c3_blu1_w, c3_blu1_u, BLUE, False),
    (c3_grn1_w, c3_grn1_u, GREEN, False), (c3_grn2_w, c3_grn2_u, GREEN, True),
    (c3_red1_w, c3_red1_u, RED, False), (c3_red2_w, c3_red2_u, RED, True), (c3_red3_w, c3_red3_u, RED, False),
    (c3_spk_w, c3_spk_u, RED, False), (c3_dec_w, c3_dec_red_u, RED, False),
    (c3_tail_w, c3_tail_grn1_u, GREEN, True), (c3_tail_w, c3_tail_grn2_u, GREEN, True),
    (c3_tail_w, c3_tail_red_u, RED, True), (c3_low_w, c3_low_u, RED, False),
])
c3_box = (1.00548, 0.183, 1.00992, 0.485)
c3_src = (1.00482, 0.325, 1.00528, 0.62)
ins = zoom_box(ax, c3_box, (1.00492, 1.00538), (0.33, 0.62), c3_src,
               ([1.00521, 1.00648], [0.617, c3_box[3]]))
draw(ins, [(c3z_red_s_w, c3z_red_s_u, RED, False), (c3z_red_d_w, c3z_red_d_u, RED, True),
           (c3z_tail_w, c3z_grn1_u, GREEN, True), (c3z_tail_w, c3z_grn2_u, GREEN, True),
           (c3z_red_low_w, c3z_red_low_u, RED, True), (c3z_hook_w, c3z_hook_u, RED, False)], lw=0.9, dash=DASH_S)

# ---- row d ----
ax = axes[3][0]
draw(ax, [(d1_red_w, d1_red_u, RED, False)])
d1_box = (0.99539, 0.285, 0.99991, 0.591)
d1_src = (1.00482, 0.344, 1.00532, 0.407)
ins = zoom_box(ax, d1_box, (1.004745, 1.005245), (0.344, 0.407), d1_src,
               ([d1_box[2], d1_src[0]], [0.553, 0.372]))
draw(ins, [(d1z_w, d1z_u, RED, False)], lw=0.9)

ax = axes[3][1]
draw(ax, [
    (d2_blk_w, d2_blk_u, BLACK, False),
    (d2_up_w, d2_blu_up_u, BLUE, False), (d2_blu_mid_w, d2_blu_mid_u, BLUE, True), (d2_blu_low_w, d2_blu_low_u, BLUE, False),
    (d2_up_w, d2_grn_up_u, GREEN, False), (d2_grn_mid_w, d2_grn_mid_u, GREEN, True), (d2_grn_low_w, d2_grn_low_u, GREEN, False),
    (d2_up_w, d2_red_up_u, RED, False), (d2_red_mid_w, d2_red_mid_u, RED, True), (d2_red_low_w, d2_red_low_u, RED, False),
])
d2_box = (0.9953, 0.271, 0.99976, 0.592)
d2_src = (1.00481, 0.305, 1.0053, 0.408)
ins = zoom_box(ax, d2_box, (1.004758, 1.005248), (0.305, 0.408), d2_src,
               ([0.99979, d2_src[2]], [0.51, 0.339]))
draw(ins, [(d2z_red_w, d2z_red_u, RED, False), (d2z_grn_ls_w, d2z_grn_ls_u, GREEN, False),
           (d2z_grn_ld_w, d2z_grn_ld_u, GREEN, True), (d2z_blu_ls_w, d2z_blu_ls_u, BLUE, False),
           (d2z_blu_ld_w, d2z_blu_ld_u, BLUE, True), (d2z_grn_r_w, d2z_grn_r_u, GREEN, True),
           (d2z_blu_r_w, d2z_blu_r_u, BLUE, True), (d2z_red_d_w, d2z_red_d_u, RED, True)], lw=0.9, dash=DASH_S)
ax.text(0.99579, 0.725, 'Isolated\nBranch', fontsize=10.5, ha='left', va='top', linespacing=1.05, zorder=8)
ax.plot([0.99773, 0.9985], [0.633, 0.445], color='#222222', lw=0.8, zorder=8)

ax = axes[3][2]
draw(ax, [(d3_red_w, d3_red_u, RED, False)])
d3_box = (0.99539, 0.302, 1.00009, 0.582)
d3_src = (1.00479, 0.067, 1.00525, 0.152)
ins = zoom_box(ax, d3_box, (1.004786, 1.005246), (0.067, 0.152), d3_src,
               ([d3_box[2], d3_src[0]], [0.348, 0.153]))
draw(ins, [(d3z_red_s_w, d3z_red_s_u, RED, False), (d3z_red_d_w, d3z_red_d_u, RED, True),
           (d3z_grn_l_w, d3z_grn_l_u, GREEN, False), (d3z_grn_r_w, d3z_grn_r_u, GREEN, False)], lw=0.9, dash=DASH_S)
ax.text(0.99631, 0.722, 'Isolated\nBranch', fontsize=10.5, ha='left', va='top', linespacing=1.05, zorder=8)
ax.plot([0.99821, 0.99879], [0.626, 0.442], color='#222222', lw=0.8, zorder=8)

# ---- axis titles ----
ylab_pos = {
    (0, 0): (-0.124, 0.617), (0, 1): (-0.045, 0.56), (0, 2): (-0.038, 0.57),
    (1, 0): (-0.121, 0.63), (1, 1): (-0.045, 0.57), (1, 2): (-0.041, 0.546),
    (2, 0): (-0.121, 0.628), (2, 2): (-0.041, 0.545),
    (3, 0): (-0.121, 0.578), (3, 1): (-0.045, 0.552), (3, 2): (-0.041, 0.543),
}
ylab_text = [r'$U_{1p}$', r'$U_1$', r'$U_2$']
for (r, c), (xf, yf) in ylab_pos.items():
    axes[r][c].text(xf, yf, ylab_text[c], transform=axes[r][c].transAxes, ha='center', va='center',
                    fontsize=11.5 if c == 0 else 13.5)
axes[3][0].text(0.518, -0.139, 'Ω$_p$', transform=axes[3][0].transAxes, ha='center', va='center',
                fontsize=13, family='Liberation Serif')
axes[3][1].text(0.434, -0.139, 'Ω', transform=axes[3][1].transAxes, ha='center', va='center',
                fontsize=13, family='Liberation Serif')
axes[3][2].text(0.492, -0.139, 'Ω', transform=axes[3][2].transAxes, ha='center', va='center',
                fontsize=13, family='Liberation Serif')

fig.savefig('out.png', dpi=100)
